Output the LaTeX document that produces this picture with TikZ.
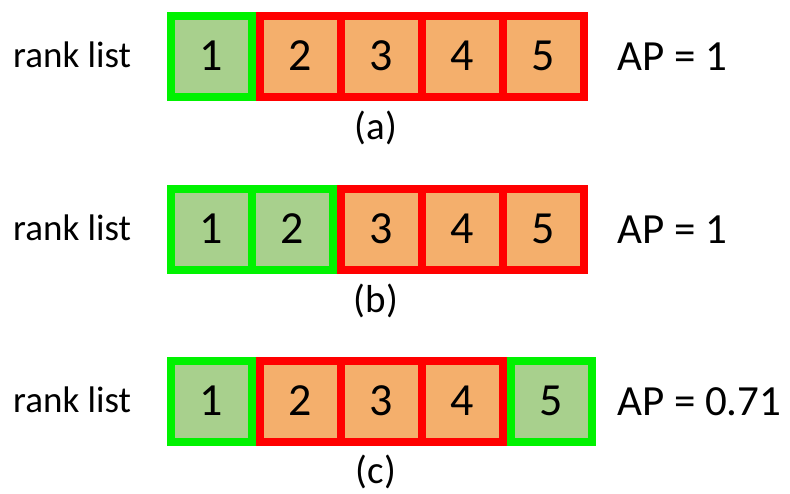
\documentclass[tikz,border=0pt]{standalone}
\usepackage{fontspec}
\setmainfont{Carlito}
\usepackage{tikz}
\usetikzlibrary{positioning}
\definecolor{hitgreen}{HTML}{00F200}
\definecolor{hitfill}{HTML}{A8D08D}
\definecolor{missred}{HTML}{FF0000}
\definecolor{missfill}{HTML}{F4AF6C}

\begin{document}
\begin{tikzpicture}[
  x=1pt, y=-1pt,
  node distance=0pt,
  cell/.style={minimum size=81pt, inner sep=0pt, outer sep=0pt, line width=8pt, font=\fontsize{46}{50}\selectfont},
  hit/.style={cell, draw=hitgreen, fill=hitfill},
  miss/.style={cell, draw=missred, fill=missfill},
  lead/.style={anchor=base west, inner sep=0pt, font=\fontsize{37}{42}\selectfont},
  score/.style={anchor=west, inner sep=0pt, font=\fontsize{43}{48}\selectfont},
  tag/.style={inner sep=0pt, font=\fontsize{39}{44}\selectfont}
]
\useasboundingbox (0,0) rectangle (790,493);

% (a)
\node[lead] (leada) at (13,67) {rank list};
\node[hit] (a1) at (211,56) {1};
\node[miss, right=8pt of a1] (a2) {2};
\node[miss, right=of a2] (a3) {3};
\node[miss, right=of a3] (a4) {4};
\node[miss, right=of a4] (a5) {5};
\node[score] (apa) at (617,57) {AP = 1};
\node[tag] (taga) at (376,128) {(a)};

% (b)
\node[lead] (leadb) at (13,240) {rank list};
\node[hit] (b1) at (211,229) {1};
\node[hit, right=of b1] (b2) {2};
\node[miss, right=8pt of b2] (b3) {3};
\node[miss, right=of b3] (b4) {4};
\node[miss, right=of b4] (b5) {5};
\node[score] (apb) at (617,230) {AP = 1};
\node[tag] (tagb) at (376,301) {(b)};

% (c)
\node[lead] (leadc) at (13,412) {rank list};
\node[hit] (c1) at (211,401) {1};
\node[miss, right=8pt of c1] (c2) {2};
\node[miss, right=of c2] (c3) {3};
\node[miss, right=of c3] (c4) {4};
\node[hit, right=8pt of c4] (c5) {5};
\node[score] (apc) at (617,402) {AP = 0.71};
\node[tag] (tagc) at (376,472) {(c)};
\end{tikzpicture}
\end{document}
